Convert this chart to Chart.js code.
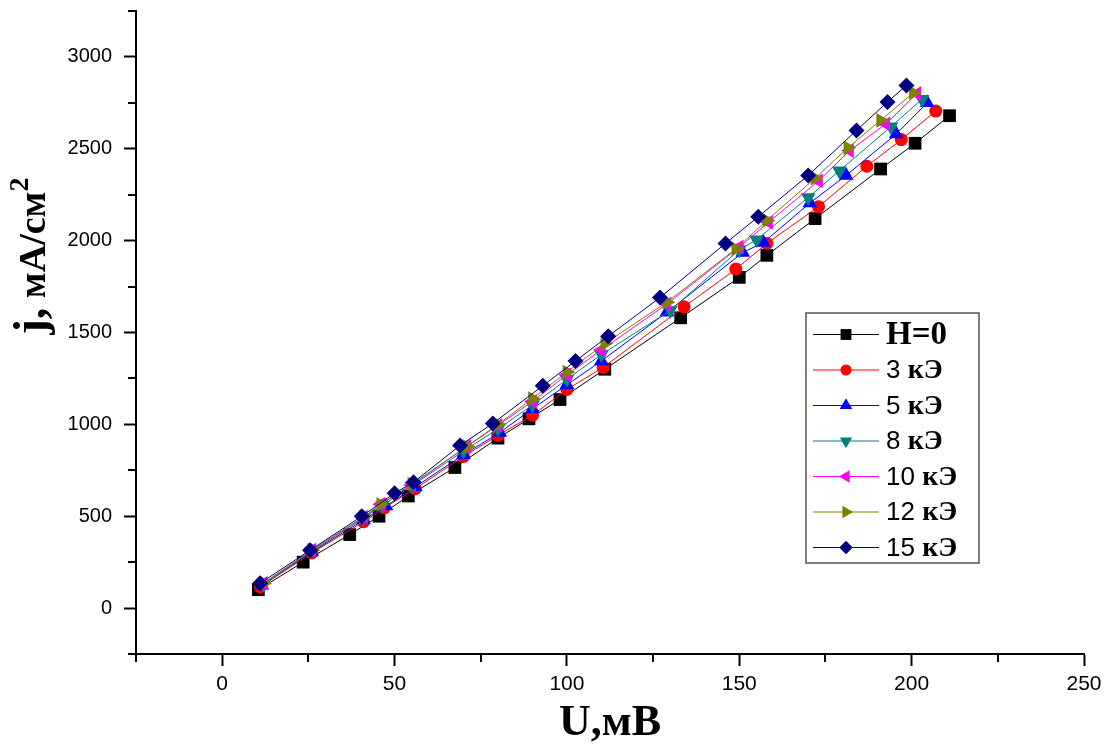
<!DOCTYPE html>
<html>
<head>
<meta charset="UTF-8">
<title>j(U)</title>
<script src="https://cdn.jsdelivr.net/npm/chart.js"></script>
<style>
  body { margin: 0; background: #fff; }
  #wrap { width: 1114px; height: 754px; }
</style>
</head>
<body>
<div id="wrap"><canvas id="myChart" width="1114" height="754"></canvas></div>
<script>
// U, mV and j, mA/cm2 for each field value
const uH0 = [10.5, 23.5, 37, 45.5, 54, 67.5, 80, 89, 98, 111, 133, 150, 158, 172, 191, 201, 211];
const jH0 = [100, 250, 400, 500, 610, 765, 925, 1030, 1135, 1300, 1580, 1800, 1920, 2120, 2390, 2530, 2680];

const u3 = [11, 26, 41, 47, 56, 70, 80, 90, 100, 110.5, 134, 149, 158, 173, 187, 197, 207];
const j3 = [115, 300, 470, 545, 650, 825, 940, 1050, 1190, 1310, 1640, 1845, 1985, 2185, 2405, 2550, 2705];

const u5 = [11.5, 26, 41, 47.5, 56, 70, 80.5, 90, 100, 110, 129, 151, 157, 170.5, 181, 195.5, 204.5];
const j5 = [125, 305, 480, 555, 660, 835, 955, 1085, 1215, 1345, 1610, 1935, 1990, 2205, 2355, 2580, 2750];

const u8 = [12, 26, 41, 46.5, 55, 70, 80, 90, 100, 110, 130, 150, 155, 170, 179, 194, 203];
const j8 = [130, 310, 490, 560, 665, 855, 975, 1105, 1245, 1380, 1620, 1950, 2005, 2235, 2380, 2620, 2770];

const u10 = [12, 26, 41, 46, 55, 71, 80, 90, 100, 110, 129, 150, 158.5, 173, 182, 192.5, 201.5];
const j10 = [135, 315, 495, 565, 670, 880, 995, 1125, 1270, 1405, 1655, 1965, 2100, 2325, 2490, 2635, 2800];

const u12 = [12, 26, 41, 46, 55, 71, 80, 90, 100, 111, 129, 149, 158, 172, 181.5, 191, 200.5];
const j12 = [135, 315, 495, 565, 675, 880, 1000, 1140, 1285, 1440, 1665, 1955, 2110, 2340, 2505, 2655, 2805];

const u15 = [11, 25.5, 40.5, 50, 55.5, 69, 78.5, 93, 102.5, 112, 127, 146, 155.5, 170, 184, 193, 198.5];
const j15 = [135, 315, 500, 625, 685, 885, 1005, 1210, 1345, 1480, 1690, 1985, 2130, 2355, 2600, 2755, 2845];

const seriesLabels = ['H=0', '3 кЭ', '5 кЭ', '8 кЭ', '10 кЭ', '12 кЭ', '15 кЭ'];
const xTicks = [0, 50, 100, 150, 200, 250];
const xMinor = [-25, 25, 75, 125, 175, 225];
const yTicks = [0, 500, 1000, 1500, 2000, 2500, 3000];
const yMinor = [-250, 250, 750, 1250, 1750, 2250, 2750, 3250];

function pts(xs, ys) {
    return xs.map((v, i) => ({ x: v, y: ys[i] }));
}

const styles = [
    { color: '#000000', pointStyle: 'rect', radius: 9, rotation: 0 },
    { color: '#ff0000', pointStyle: 'circle', radius: 6.5, rotation: 0 },
    { color: '#0000ff', pointStyle: 'triangle', radius: 8.5, rotation: 0 },
    { color: '#008080', pointStyle: 'triangle', radius: 8.5, rotation: 180 },
    { color: '#ff00ff', pointStyle: 'triangle', radius: 8.5, rotation: 270 },
    { color: '#808000', pointStyle: 'triangle', radius: 8.5, rotation: 90 },
    { color: '#000080', pointStyle: 'rectRot', radius: 8, rotation: 0 }
];

const allData = [pts(uH0, jH0), pts(u3, j3), pts(u5, j5), pts(u8, j8), pts(u10, j10), pts(u12, j12), pts(u15, j15)];

const datasets = allData.map((d, i) => ({
    label: seriesLabels[i],
    data: d,
    borderColor: styles[i].color,
    backgroundColor: styles[i].color,
    borderWidth: 1,
    pointStyle: styles[i].pointStyle,
    pointRadius: styles[i].radius,
    pointRotation: styles[i].rotation,
    pointBorderWidth: 0,
    tension: 0,
    order: 7 - i
}));

// minor ticks, rotated y title and the boxed legend inside the plot
const decorations = {
    id: 'decorations',
    afterDraw(chart) {
        const ctx = chart.ctx;
        const xs = chart.scales.x, ys = chart.scales.y;
        const area = chart.chartArea;
        ctx.save();
        ctx.strokeStyle = '#000';
        ctx.lineWidth = 2;
        xMinor.forEach(v => {
            const p = Math.round(xs.getPixelForValue(v));
            ctx.beginPath(); ctx.moveTo(p, area.bottom); ctx.lineTo(p, area.bottom + 8); ctx.stroke();
        });
        yMinor.forEach(v => {
            const p = Math.round(ys.getPixelForValue(v));
            ctx.beginPath(); ctx.moveTo(area.left, p); ctx.lineTo(area.left - 8, p); ctx.stroke();
        });

        // y title
        const parts = [
            { t: 'j,', font: 'bold 46px "Liberation Serif"', dy: 0 },
            { t: ' мА/см', font: 'bold 38px "Liberation Serif"', dy: 0 },
            { t: '2', font: 'bold 28px "Liberation Serif"', dy: -17 }
        ];
        let total = 0;
        parts.forEach(p => { ctx.font = p.font; p.w = ctx.measureText(p.t).width; total += p.w; });
        ctx.translate(45, 256);
        ctx.rotate(-Math.PI / 2);
        ctx.fillStyle = '#000';
        ctx.textBaseline = 'alphabetic';
        ctx.textAlign = 'left';
        let px = -total / 2;
        parts.forEach(p => { ctx.font = p.font; ctx.fillText(p.t, px, p.dy); px += p.w; });
        ctx.setTransform(1, 0, 0, 1, 0, 0);

        // legend
        ctx.strokeStyle = '#555';
        ctx.lineWidth = 1.5;
        ctx.strokeRect(806, 313, 173, 250);
        chart.data.datasets.forEach((ds, i) => {
            const y = 334.5 + i * 35.5;
            ctx.strokeStyle = ds.borderColor;
            ctx.lineWidth = 1;
            ctx.beginPath(); ctx.moveTo(813, y); ctx.lineTo(879, y); ctx.stroke();
            ctx.fillStyle = ds.backgroundColor;
            Chart.helpers.drawPoint(ctx, {
                pointStyle: ds.pointStyle,
                rotation: ds.pointRotation,
                radius: ds.pointRadius * 0.85,
                borderWidth: 0
            }, 846, y);
            ctx.fillStyle = '#000';
            ctx.textBaseline = 'middle';
            const bits = ds.label.split(' ');
            if (bits.length === 1) {
                ctx.font = 'bold 33px "Liberation Serif"';
                ctx.fillText(ds.label, 886, y + 1);
            } else {
                ctx.font = '26px "Liberation Sans"';
                ctx.fillText(bits[0] + ' ', 886, y + 1);
                const w = ctx.measureText(bits[0] + ' ').width;
                ctx.font = 'bold 28px "Liberation Serif"';
                ctx.fillText(bits[1], 886 + w, y + 1);
            }
        });
        ctx.restore();
    }
};

new Chart(document.getElementById('myChart'), {
    type: 'line',
    data: { datasets: datasets },
    options: {
        responsive: false,
        animation: false,
        devicePixelRatio: 1,
        layout: { padding: { top: 11, right: 30, left: 0, bottom: 0 } },
        plugins: { legend: { display: false }, tooltip: { enabled: false } },
        scales: {
            x: {
                type: 'linear',
                min: -25,
                max: 250,
                afterBuildTicks: s => { s.ticks = xTicks.map(v => ({ value: v })); },
                afterFit: s => { s.height = 100; s.paddingLeft = 0; s.paddingRight = 0; },
                grid: { display: true, drawOnChartArea: false, drawTicks: true, tickLength: 12, tickWidth: 2, tickColor: '#000' },
                border: { display: true, color: '#000', width: 2 },
                ticks: {
                    autoSkip: false, maxRotation: 0, padding: 6, color: '#000',
                    font: { family: 'Liberation Sans', size: 21 },
                    callback: v => String(v)
                },
                title: {
                    display: true, text: 'U,мВ', color: '#000',
                    font: { family: 'Liberation Serif', size: 44, weight: 'bold' },
                    padding: { top: 0, bottom: 4 }
                }
            },
            y: {
                type: 'linear',
                min: -250,
                max: 3250,
                afterBuildTicks: s => { s.ticks = yTicks.map(v => ({ value: v })); },
                afterFit: s => { s.width = 136; s.paddingTop = 0; s.paddingBottom = 0; },
                grid: { display: true, drawOnChartArea: false, drawTicks: true, tickLength: 12, tickWidth: 2, tickColor: '#000' },
                border: { display: true, color: '#000', width: 2 },
                ticks: {
                    autoSkip: false, padding: 12, color: '#000',
                    font: { family: 'Liberation Sans', size: 20 },
                    callback: v => String(v)
                }
            }
        }
    },
    plugins: [decorations]
});
</script>
</body>
</html>
